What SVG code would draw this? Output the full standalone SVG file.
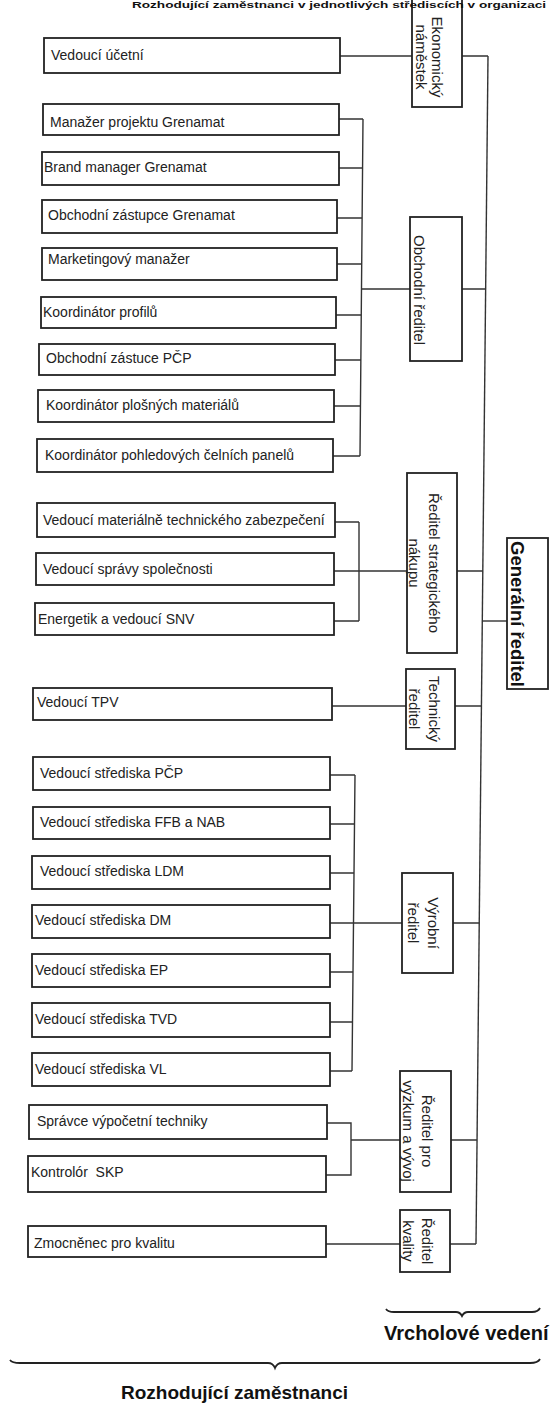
<svg xmlns="http://www.w3.org/2000/svg" width="550" height="1404" viewBox="0 0 550 1404">
<style>
.box{fill:#fff;stroke:#222;stroke-width:1.8}
.lbl{font-family:"Liberation Sans",Arial,sans-serif;font-size:14px;fill:#222}
.vlbl{font-family:"Liberation Sans",Arial,sans-serif;font-size:15px;fill:#222;text-anchor:middle}
.gen{font-family:"Liberation Sans",Arial,sans-serif;font-size:18.5px;font-weight:bold;fill:#111;text-anchor:middle}
.conn{stroke:#333;stroke-width:1.4;fill:none}
.brace{stroke:#222;stroke-width:1.8;fill:none}
.cap{font-family:"Liberation Sans",Arial,sans-serif;font-weight:bold;fill:#111}
</style>
<rect width="550" height="1404" fill="#fff"/>

<g id="connectors">
<path class="conn" d="M488,56 L476,1244"/>
<path class="conn" d="M340,56 H412 M462,56 H488"/>
<path class="conn" d="M363,119 L360,456 M339,119 H363 M339,168 H362.5 M337,218 H362 M337,264 H361.5 M336,315 H361 M335,360 H360.5 M334,406 H360 M333,456 H360 M361.5,289 H410 M462,289 H485.6"/>
<path class="conn" d="M359,522 V621 M335,522 H359 M334,571 H407 M334,621 H359 M457,571 H482.8"/>
<path class="conn" d="M482.3,621 H507"/>
<path class="conn" d="M332,706 H406 M455,706 H481.4"/>
<path class="conn" d="M355,775 L352,1071 M330,775 H355 M330,824 H354.5 M330,873 H354 M330,923 H402 M330,972 H353 M330,1022 H352.5 M330,1071 H352 M453,923 H479.2"/>
<path class="conn" d="M327,1123 H351 V1175 H326 M351,1140 H400 M451,1140 H477"/>
<path class="conn" d="M326,1244 H400 M450,1244 H476"/>
</g>

<g id="n_ucetni"><rect class="box" x="44" y="38" width="296" height="35"/><text class="lbl" x="51" y="60">Vedoucí účetní</text></g>
<g id="n_manazer"><rect class="box" x="43" y="104" width="296" height="31"/><text class="lbl" x="50" y="127">Manažer projektu Grenamat</text></g>
<g id="n_brand"><rect class="box" x="42" y="152" width="297" height="33"/><text class="lbl" x="44" y="172">Brand manager Grenamat</text></g>
<g id="n_obch_gren"><rect class="box" x="42" y="200" width="295" height="33"/><text class="lbl" x="48" y="220">Obchodní zástupce Grenamat</text></g>
<g id="n_marketing"><rect class="box" x="42" y="248" width="295" height="32"/><text class="lbl" x="48" y="264">Marketingový manažer</text></g>
<g id="n_profilu"><rect class="box" x="41" y="297" width="295" height="31"/><text class="lbl" x="43" y="317">Koordinátor profilů</text></g>
<g id="n_pcp"><rect class="box" x="39" y="344" width="296" height="31"/><text class="lbl" x="46" y="363">Obchodní zástuce PČP</text></g>
<g id="n_plosnych"><rect class="box" x="38" y="390" width="296" height="32"/><text class="lbl" x="46" y="410">Koordinátor plošných materiálů</text></g>
<g id="n_pohled"><rect class="box" x="37" y="439" width="296" height="33"/><text class="lbl" x="45" y="460">Koordinátor pohledových čelních panelů</text></g>

<g id="n_mat"><rect class="box" x="37" y="503" width="298" height="34"/><text class="lbl" x="43" y="525">Vedoucí materiálně technického zabezpečení</text></g>
<g id="n_sprava"><rect class="box" x="36" y="553" width="298" height="32"/><text class="lbl" x="43" y="574">Vedoucí správy společnosti</text></g>
<g id="n_energetik"><rect class="box" x="35" y="603" width="299" height="32"/><text class="lbl" x="38" y="624">Energetik a vedoucí SNV</text></g>

<g id="n_tpv"><rect class="box" x="33" y="688" width="299" height="32"/><text class="lbl" x="37" y="707">Vedoucí TPV</text></g>

<g id="n_st_pcp"><rect class="box" x="33" y="757" width="297" height="33"/><text class="lbl" x="40" y="778">Vedoucí střediska PČP</text></g>
<g id="n_st_ffb"><rect class="box" x="33" y="807" width="297" height="32"/><text class="lbl" x="40" y="827">Vedoucí střediska FFB a NAB</text></g>
<g id="n_st_ldm"><rect class="box" x="32" y="856" width="298" height="33"/><text class="lbl" x="40" y="876">Vedoucí střediska LDM</text></g>
<g id="n_st_dm"><rect class="box" x="32" y="905" width="298" height="33"/><text class="lbl" x="35" y="925">Vedoucí střediska DM</text></g>
<g id="n_st_ep"><rect class="box" x="32" y="954" width="298" height="33"/><text class="lbl" x="35" y="975">Vedoucí střediska EP</text></g>
<g id="n_st_tvd"><rect class="box" x="32" y="1003" width="298" height="34"/><text class="lbl" x="35" y="1024">Vedoucí střediska TVD</text></g>
<g id="n_st_vl"><rect class="box" x="32" y="1053" width="298" height="33"/><text class="lbl" x="35" y="1074">Vedoucí střediska VL</text></g>

<g id="n_spravce"><rect class="box" x="29" y="1105" width="298" height="34"/><text class="lbl" x="37" y="1126">Správce výpočetní techniky</text></g>
<g id="n_kontrolor"><rect class="box" x="28" y="1156" width="298" height="36"/><text class="lbl" x="31" y="1177" xml:space="preserve">Kontrolór  SKP</text></g>
<g id="n_zmocnenec"><rect class="box" x="28" y="1226" width="298" height="31"/><text class="lbl" x="34" y="1248">Zmocněnec pro kvalitu</text></g>

<g id="n_ekonom"><rect class="box" x="412" y="-3" width="50" height="110"/><text class="vlbl" transform="translate(432,57) rotate(90)"><tspan x="0" y="0">Ekonomický</tspan><tspan x="0" dy="16">náměstek</tspan></text></g>
<g id="n_obchodni"><rect class="box" x="410" y="217" width="52" height="144"/><text class="vlbl" transform="translate(413.5,290) rotate(90)">Obchodní ředitel</text></g>
<g id="n_strateg"><rect class="box" x="407" y="473" width="50" height="180"/><text class="vlbl" transform="translate(428.5,563) rotate(90)"><tspan x="0" y="0">Ředitel strategického</tspan><tspan x="0" dy="20">nákupu</tspan></text></g>
<g id="n_technicky"><rect class="box" x="406" y="669" width="49" height="80"/><text class="vlbl" transform="translate(428.5,709) rotate(90)"><tspan x="0" y="0">Technický</tspan><tspan x="0" dy="20">ředitel</tspan></text></g>
<g id="n_vyrobni"><rect class="box" x="402" y="873" width="51" height="100"/><text class="vlbl" transform="translate(427.5,923) rotate(90)"><tspan x="0" y="0">Výrobní</tspan><tspan x="0" dy="20">ředitel</tspan></text></g>
<g id="n_vyzkum"><rect class="box" x="400" y="1071" width="51" height="121"/><text class="vlbl" transform="translate(421.5,1131) rotate(90)"><tspan x="0" y="0">Ředitel pro</tspan><tspan x="0" dy="19">výzkum a vývoj</tspan></text></g>
<g id="n_kvality"><rect class="box" x="400" y="1210" width="50" height="62"/><text class="vlbl" transform="translate(421.5,1241) rotate(90)"><tspan x="0" y="0">Ředitel</tspan><tspan x="0" dy="19">kvality</tspan></text></g>
<g id="n_generalni"><rect class="box" x="507" y="538" width="41" height="151"/><text class="gen" transform="translate(511,614) rotate(90)">Generální ředitel</text></g>

<g id="header">
<text class="cap" x="132" y="8" font-size="9" textLength="414" lengthAdjust="spacingAndGlyphs">Rozhodující zaměstnanci v jednotlivých střediscích v organizaci</text>
</g>
<g id="vrcholove">
<path class="brace" d="M386,1309 Q388,1312 394,1312 L456,1312 Q460,1312 462,1316 Q464,1312 468,1312 L532,1312 Q538,1312 540,1308"/>
<text class="cap" x="384" y="1340" font-size="20">Vrcholové vedení</text>
</g>
<g id="rozhodujici">
<path class="brace" d="M10,1360 Q12,1363 20,1363 L268,1363 Q273,1363 275,1368 Q277,1363 282,1363 L530,1363 Q538,1363 540,1359"/>
<text class="cap" x="121" y="1399" font-size="19">Rozhodující zaměstnanci</text>
</g>
</svg>
